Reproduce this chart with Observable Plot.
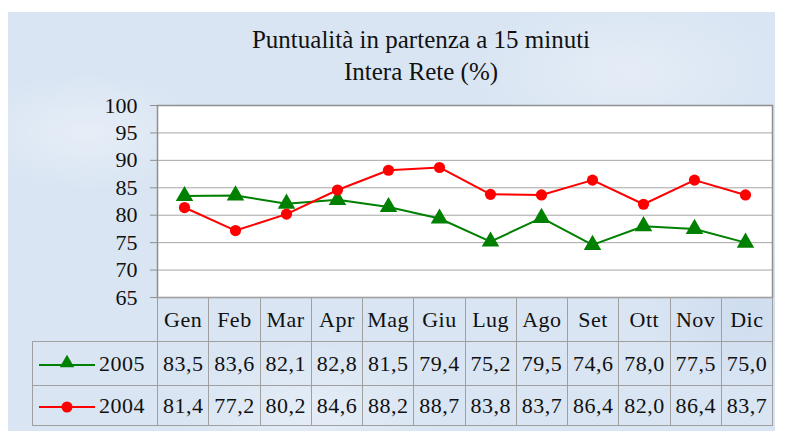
<!DOCTYPE html>
<html>
<head>
<meta charset="utf-8">
<script src="https://cdn.jsdelivr.net/npm/d3@7"></script>
<script src="https://cdn.jsdelivr.net/npm/@observablehq/plot@0.6"></script>
<style>
  html, body { margin:0; padding:0; background:#fff; }
  #wrap { position:relative; width:786px; height:434px; overflow:hidden; font-family:"Liberation Serif", serif; color:#111; }
  #panel { position:absolute; left:8px; top:12px; width:767px; height:419px;
    background:
      radial-gradient(ellipse 120px 60px at 80px 120px, rgba(255,255,255,0.35), transparent),
      radial-gradient(ellipse 160px 80px at 620px 60px, rgba(255,255,255,0.3), transparent),
      radial-gradient(ellipse 140px 70px at 300px 400px, rgba(255,255,255,0.3), transparent),
      radial-gradient(ellipse 100px 80px at 740px 300px, rgba(180,200,230,0.3), transparent),
      #d9e5f3; }
  .title { position:absolute; left:0; width:842px; text-align:center; font-family:"Liberation Serif", serif; font-size:25px; line-height:28px; color:#111; }
  #chart { position:absolute; left:0; top:0; }
  #chart svg text { font-family:"Liberation Serif", serif !important; }
  #tbl { position:absolute; left:32px; top:297px; border-collapse:collapse; font-family:"Liberation Serif", serif; font-size:22px; letter-spacing:0.5px; table-layout:fixed; color:#111; }
  #tbl td { border:1px solid #a0a0a0; padding:0; text-align:center; white-space:nowrap; }
  #tbl tr.head td { height:43px; }
  #tbl tr.r1 td { height:43px; }
  #tbl tr.r2 td { height:39px; }
  #tbl td.blank { border-left:none; border-top:none; }
  #tbl td.key { text-align:left; }
  #tbl td.key svg { vertical-align:middle; margin-left:6px; margin-right:4px; }
</style>
</head>
<body>
<div id="wrap">
  <div id="panel"></div>
  <div class="title" style="top:26px">Puntualità in partenza a 15 minuti</div>
  <div class="title" style="top:58px">Intera Rete (%)</div>
  <div id="chart"></div>
</div>
<script>
const months = ["Gen","Feb","Mar","Apr","Mag","Giu","Lug","Ago","Set","Ott","Nov","Dic"];
const v2005 = [83.5,83.6,82.1,82.8,81.5,79.4,75.2,79.5,74.6,78.0,77.5,75.0];
const v2004 = [81.4,77.2,80.2,84.6,88.2,88.7,83.8,83.7,86.4,82.0,86.4,83.7];
const seriesNames = ["2005","2004"];
const seriesColors = ["#008000","#ff0000"];
const seriesSymbols = ["triangle","circle"];
const yTicks = [65,70,75,80,85,90,95,100];

const data = months.flatMap((m,i)=>[
  {month:m, year:"2005", value:v2005[i]},
  {month:m, year:"2004", value:v2004[i]}
]);

const W = 786, ML = 157, MR = 14;
const chart = Plot.plot({
  width: W, height: 320,
  marginLeft: ML, marginRight: MR, marginTop: 105, marginBottom: 23,
  style: {background:"transparent", fontFamily:"Liberation Serif", fontSize:"22px", color:"#111"},
  x: {type:"point", domain: months, padding:0.5, axis:null},
  y: {domain:[65,100], ticks: yTicks},
  color: {domain: seriesNames, range: seriesColors},
  marks: [
    Plot.frame({fill:"white", stroke:null}),
    Plot.gridY(yTicks, {stroke:"#a6a6a6", strokeOpacity:1, strokeWidth:1}),
    Plot.frame({stroke:"#8f8f8f", strokeWidth:1.5}),
    Plot.axisY({ticks: yTicks, tickSize:7, tickPadding:13, stroke:"#8f8f8f", fontSize:22, fill:"#111", label:null}),
    Plot.line(data, {x:"month", y:"value", z:"year", stroke:"year", strokeWidth:2}),
    Plot.dot(data.filter(d=>d.year==="2005"), {x:"month", y:"value", fill:"year", symbol:()=>"triangle", r:6.5, stroke:null}),
    Plot.dot(data.filter(d=>d.year==="2004"), {x:"month", y:"value", fill:"year", symbol:()=>"circle", r:5.6, stroke:null})
  ]
});
document.getElementById("chart").appendChild(chart);

// data table below the plot, aligned to the x scale's steps
const step = (W - ML - MR) / months.length;
const fmt = v => v.toFixed(1).replace(".", ",");
const tbl = document.createElement("table");
tbl.id = "tbl";
const cg = document.createElement("colgroup");
const c0 = document.createElement("col"); c0.style.width = (ML - 32) + "px"; cg.appendChild(c0);
months.forEach(()=>{ const c = document.createElement("col"); c.style.width = step + "px"; cg.appendChild(c); });
tbl.appendChild(cg);
tbl.style.width = (ML - 32 + step*months.length) + "px";

const head = document.createElement("tr"); head.className = "head";
const blank = document.createElement("td"); blank.className = "blank"; head.appendChild(blank);
months.forEach(m=>{ const td=document.createElement("td"); td.textContent=m; head.appendChild(td); });
tbl.appendChild(head);

[[v2005,0,"r1"],[v2004,1,"r2"]].forEach(([vals,k,cls])=>{
  const tr = document.createElement("tr"); tr.className = cls;
  const key = document.createElement("td"); key.className = "key";
  const col = seriesColors[k];
  const sym = seriesSymbols[k] === "triangle"
    ? `<path d="${d3.symbol(d3.symbolTriangle, 90)()}" transform="translate(28,8)" fill="${col}"/>`
    : `<circle cx="28" cy="10" r="5.5" fill="${col}"/>`;
  key.innerHTML = `<svg width="56" height="20"><line x1="0" x2="56" y1="10" y2="10" stroke="${col}" stroke-width="2"/>${sym}</svg>${seriesNames[k]}`;
  tr.appendChild(key);
  vals.forEach(v=>{ const td=document.createElement("td"); td.textContent=fmt(v); tr.appendChild(td); });
  tbl.appendChild(tr);
});
document.getElementById("wrap").appendChild(tbl);
</script>
</body>
</html>
